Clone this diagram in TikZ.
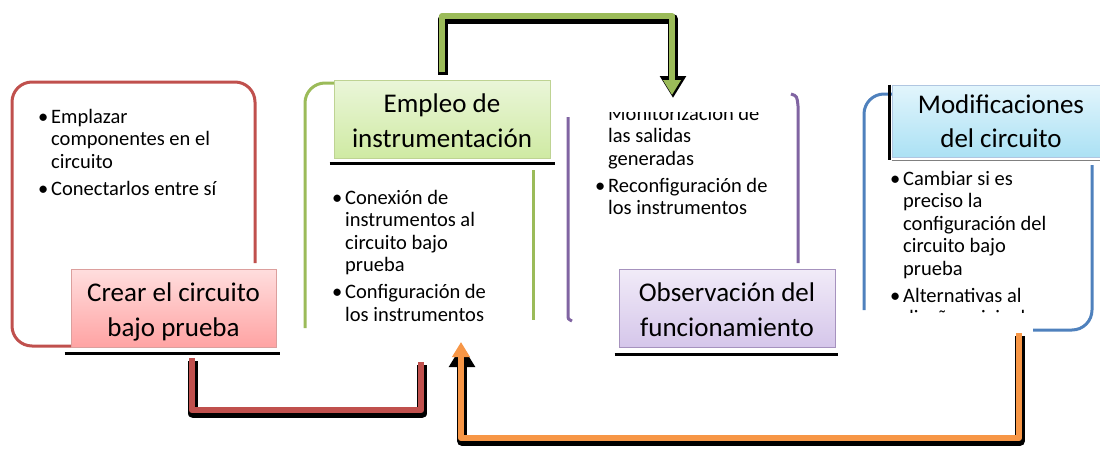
\documentclass[tikz,border=0pt]{standalone}
\usepackage{fontspec}
\setmainfont{Carlito}
\usetikzlibrary{arrows.meta}
\definecolor{accred}{HTML}{C0504D}
\definecolor{accgreen}{HTML}{9BBB59}
\definecolor{accpurple}{HTML}{8064A2}
\definecolor{accblue}{HTML}{4F81BD}
\definecolor{accorange}{HTML}{F79646}
\definecolor{redtop}{HTML}{FFDEDE}
\definecolor{redbot}{HTML}{FFA3A3}
\definecolor{greentop}{HTML}{EAF6D9}
\definecolor{greenbot}{HTML}{CFEAA3}
\definecolor{purpletop}{HTML}{F1EBF8}
\definecolor{purplebot}{HTML}{D5C6EA}
\definecolor{bluetop}{HTML}{E2F5FC}
\definecolor{bluebot}{HTML}{ABE1F4}
\newcommand{\bul}{\strut\makebox[13pt][l]{\textbullet}}
\newcommand{\ind}{\hspace*{13pt}}
\tikzset{
  panel/.style={line width=3pt, rounded corners=20pt},
  labelbox/.style={draw=#1, line width=0.8pt, inner sep=0pt, align=center,
    font=\fontsize{27}{34.5}\selectfont, text height=56pt, text depth=0pt},
  bodytext/.style={align=left, inner sep=0pt, anchor=north west,
    font=\fontsize{20.5}{22.5}\selectfont},
  boxshadow/.style={line width=3pt, black},
  flow/.style={line width=6pt, draw=#1, line join=round},
  flowshadow/.style={line width=10pt, black, line join=round,
    transform canvas={xshift=1pt,yshift=-3pt}},
  flowtip/.style={-{Triangle[width=17pt,length=15pt]}},
  shadowtip/.style={-{Triangle[width=25pt,length=22pt]}},
}

\begin{document}
\begin{tikzpicture}[x=1pt, y=-1pt]
  \useasboundingbox (0,0) rectangle (1100,450);

  % panel outlines
  \draw[panel, accred] (71,346) -- (12,346) -- (12,82) -- (255,82) -- (255,263);
  \draw[panel, accgreen] (334,83) -- (305,83) -- (305,328);
  \draw[line width=3pt, accgreen] (533,170) -- (533,320);
  \draw[line width=3pt, accpurple] (568,117) -- (568,315) .. controls (568,319) .. (572,321);
  \draw[line width=3pt, accpurple] (791,94) .. controls (797,96) .. (798,106) -- (798,263);
  \draw[panel, accblue] (864,310) -- (864,94) -- (892,94);
  \draw[panel, accblue] (1092,165) -- (1092,330) -- (1033,330);

  % panel texts
  \node[bodytext] (crearlist) at (38,107.25)
    {\bul Emplazar\\ \ind componentes en el\\ \ind circuito\\[4.5pt]
     \bul Conectarlos entre sí};
  \begin{scope}
    \clip (310,166) rectangle (530,322);
    \node[bodytext] (emplist) at (332,188.25)
      {\bul Conexión de\\ \ind instrumentos al\\ \ind circuito bajo\\ \ind prueba\\[4.5pt]
       \bul Configuración de\\ \ind los instrumentos};
  \end{scope}
  \begin{scope}
    \clip (606,112) -- (795,112) -- (795,262) -- (572,262) -- (572,126) -- (606,126) -- cycle;
    \node[bodytext] (obslist) at (595,104.25)
      {\bul Monitorización de\\ \ind las salidas\\ \ind generadas\\[4.5pt]
       \bul Reconfiguración de\\ \ind los instrumentos};
  \end{scope}
  \begin{scope}
    \clip (868,162) rectangle (1088,312);
    \node[bodytext] (modlist) at (890,169.25)
      {\bul Cambiar si es\\ \ind preciso la\\ \ind configuración del\\ \ind circuito bajo\\ \ind prueba\\[4.5pt]
       \bul Alternativas al\\ \ind diseño original};
  \end{scope}

  % label boxes
  \node[labelbox=accred!55, top color=redtop, bottom color=redbot,
    minimum width=205pt, minimum height=78pt] (crear) at (173.5,308)
    {Crear el circuito\\bajo prueba};
  \node[labelbox=accgreen!65, top color=greentop, bottom color=greenbot,
    minimum width=216pt, minimum height=78pt] (emp) at (442,119)
    {Empleo de\\instrumentación};
  \node[labelbox=accpurple!70, top color=purpletop, bottom color=purplebot,
    minimum width=216pt, minimum height=78pt] (obs) at (727,308)
    {Observación del\\funcionamiento};
  \node[labelbox=accblue!45, top color=bluetop, bottom color=bluebot,
    minimum width=218pt, minimum height=72pt, text height=53pt] (mod) at (1001,121)
    {Modificaciones\\del circuito};

  \draw[boxshadow] ([xshift=-6pt,yshift=-6pt]crear.south west) -- ([xshift=4pt,yshift=-6pt]crear.south east);
  \draw[boxshadow] ([xshift=-4pt,yshift=-5pt]emp.south west) -- ([xshift=5pt,yshift=-5pt]emp.south east);
  \draw[boxshadow] ([xshift=-4pt,yshift=-7pt]obs.south west) -- ([xshift=3pt,yshift=-7pt]obs.south east);
  \draw[boxshadow] ([xshift=-2pt]mod.north west) -- ([xshift=-2pt,yshift=-3pt]mod.south west);
  \draw[gray, line width=1pt] ([yshift=-3pt]mod.south west) -- ([yshift=-3pt]mod.south east);

  % connectors
  \coordinate (greenbend) at (672,16);
  \coordinate (obsin) at (672,95);
  \coordinate (empfoot) at (421,362);
  \coordinate (modfoot) at (1019,333);
  \coordinate (empin) at (461,342);

  \draw[flowshadow, shadowtip] ([yshift=8pt]emp.north) |- (greenbend) -- (obsin);
  \draw[flow=accgreen, flowtip] ([yshift=8pt]emp.north) |- (greenbend) -- (obsin);

  \draw[flowshadow] ([xshift=18.5pt,yshift=-11pt]crear.south) -- ++(0,52) -| (empfoot);
  \draw[flow=accred] ([xshift=18.5pt,yshift=-11pt]crear.south) -- ++(0,52) -| (empfoot);

  \draw[flowshadow, shadowtip] (modfoot) -- ++(0,105) -| (empin);
  \draw[flow=accorange, flowtip] (modfoot) -- ++(0,105) -| (empin);
\end{tikzpicture}
\end{document}
